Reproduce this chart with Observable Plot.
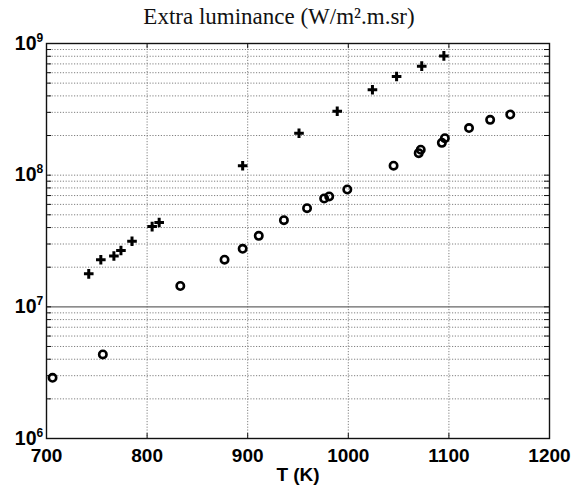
<!DOCTYPE html>
<html><head><meta charset="utf-8">
<script src="https://cdn.jsdelivr.net/npm/d3@7"></script>
<script src="https://cdn.jsdelivr.net/npm/@observablehq/plot@0.6"></script>
<style>
body{margin:0;background:#fff;}
#title{position:relative;height:28px;width:583px;}
#title span{position:absolute;top:5px;left:279px;transform:translateX(-50%);font-family:"Liberation Serif","Times New Roman",serif;font-size:23px;line-height:23px;white-space:nowrap;color:#111;}
</style></head><body>
<div id="title"><span>Extra luminance (W/m².m.sr)</span></div>
<div id="chart"></div>
<script>
// Series 1: crosses
const crossT = [742, 754, 767, 774, 785, 805, 812, 895, 951, 989, 1024, 1048, 1073, 1095];
const crossV = [1.78e7, 2.28e7, 2.43e7, 2.68e7, 3.15e7, 4.07e7, 4.37e7, 1.18e8, 2.08e8, 3.06e8, 4.45e8, 5.61e8, 6.73e8, 8.05e8];
// Series 2: circles
const circleT = [706, 756, 833, 877, 895, 911, 936, 959, 976, 981, 999, 1045, 1070, 1072, 1093, 1096, 1120, 1141, 1161];
const circleV = [2.89e6, 4.35e6, 1.44e7, 2.28e7, 2.76e7, 3.46e7, 4.55e7, 5.61e7, 6.65e7, 6.89e7, 7.78e7, 1.18e8, 1.47e8, 1.56e8, 1.76e8, 1.91e8, 2.28e8, 2.63e8, 2.89e8];
// Tick labels
const xTicks = [700, 800, 900, 1000, 1100, 1200];
const yMajor = [1e6, 1e7, 1e8, 1e9];
const yExponents = ["6", "7", "8", "9"];
const yMinorFactors = [2, 3, 4, 5, 6, 7, 8, 9];
const xLabel = "T (K)";

const crosses = crossT.map((t, i) => ({T: t, v: crossV[i]}));
const circles = circleT.map((t, i) => ({T: t, v: circleV[i]}));
const yMinor = yMajor.slice(0, -1).flatMap(m => yMinorFactors.map(f => m * f));
const yAll = [...yMajor, ...yMinor];
const yGridDotted = [...yMinor, 1e8];

const grid = {stroke: "#808080", strokeDasharray: "1.2,1.6", strokeWidth: 1};

const chart = Plot.plot({
  width: 583,
  height: 458,
  marginTop: 15,
  marginBottom: 48,
  marginLeft: 46,
  marginRight: 34,
  style: {fontFamily: "'Liberation Sans', Arial, sans-serif", fontSize: "19px", fontWeight: "bold", color: "#000", background: "#fff"},
  x: {domain: [700, 1200], label: null},
  y: {type: "log", domain: [1e6, 1e9], axis: null},
  marks: [
    Plot.ruleX(xTicks.slice(1, -1), grid),
    Plot.ruleY(yGridDotted, grid),
    Plot.ruleY([1e7], {stroke: "#666", strokeWidth: 1.2}),
    Plot.tickY(yAll, {y: d => d, insetRight: 498, stroke: "#111"}),
    Plot.tickY(yAll, {y: d => d, insetLeft: 498, stroke: "#111"}),
    Plot.tickX(xTicks, {x: d => d, insetTop: 390, stroke: "#111"}),
    Plot.tickX(xTicks, {x: d => d, insetBottom: 390, stroke: "#111"}),
    Plot.frame({stroke: "#111", strokeWidth: 1.4}),
    Plot.dot(circles, {x: "T", y: "v", r: 3.7, stroke: "#000", strokeWidth: 2.6, fill: "none"}),
    Plot.dot(crosses, {x: "T", y: "v", symbol: "plus", r: 3.2, stroke: "#000", strokeWidth: 3}),
    Plot.axisX(xTicks, {tickSize: 0, tickPadding: 10, tickFormat: d => String(d), fontSize: 19, fontWeight: "bold", label: null}),
    Plot.text(yMajor, {y: d => d, text: () => "10", frameAnchor: "left", textAnchor: "end", dx: -10, fontSize: 19.5, fontWeight: "bold"}),
    Plot.text(yMajor, {y: d => d, text: yExponents, frameAnchor: "left", textAnchor: "start", dx: -10, dy: -2, lineAnchor: "bottom", fontSize: 12, fontWeight: "bold"}),
    Plot.text([xLabel], {frameAnchor: "bottom", dy: 42, lineAnchor: "bottom", fontSize: 19, fontWeight: "bold"})
  ]
});
document.getElementById("chart").appendChild(chart);
</script>
</body></html>
